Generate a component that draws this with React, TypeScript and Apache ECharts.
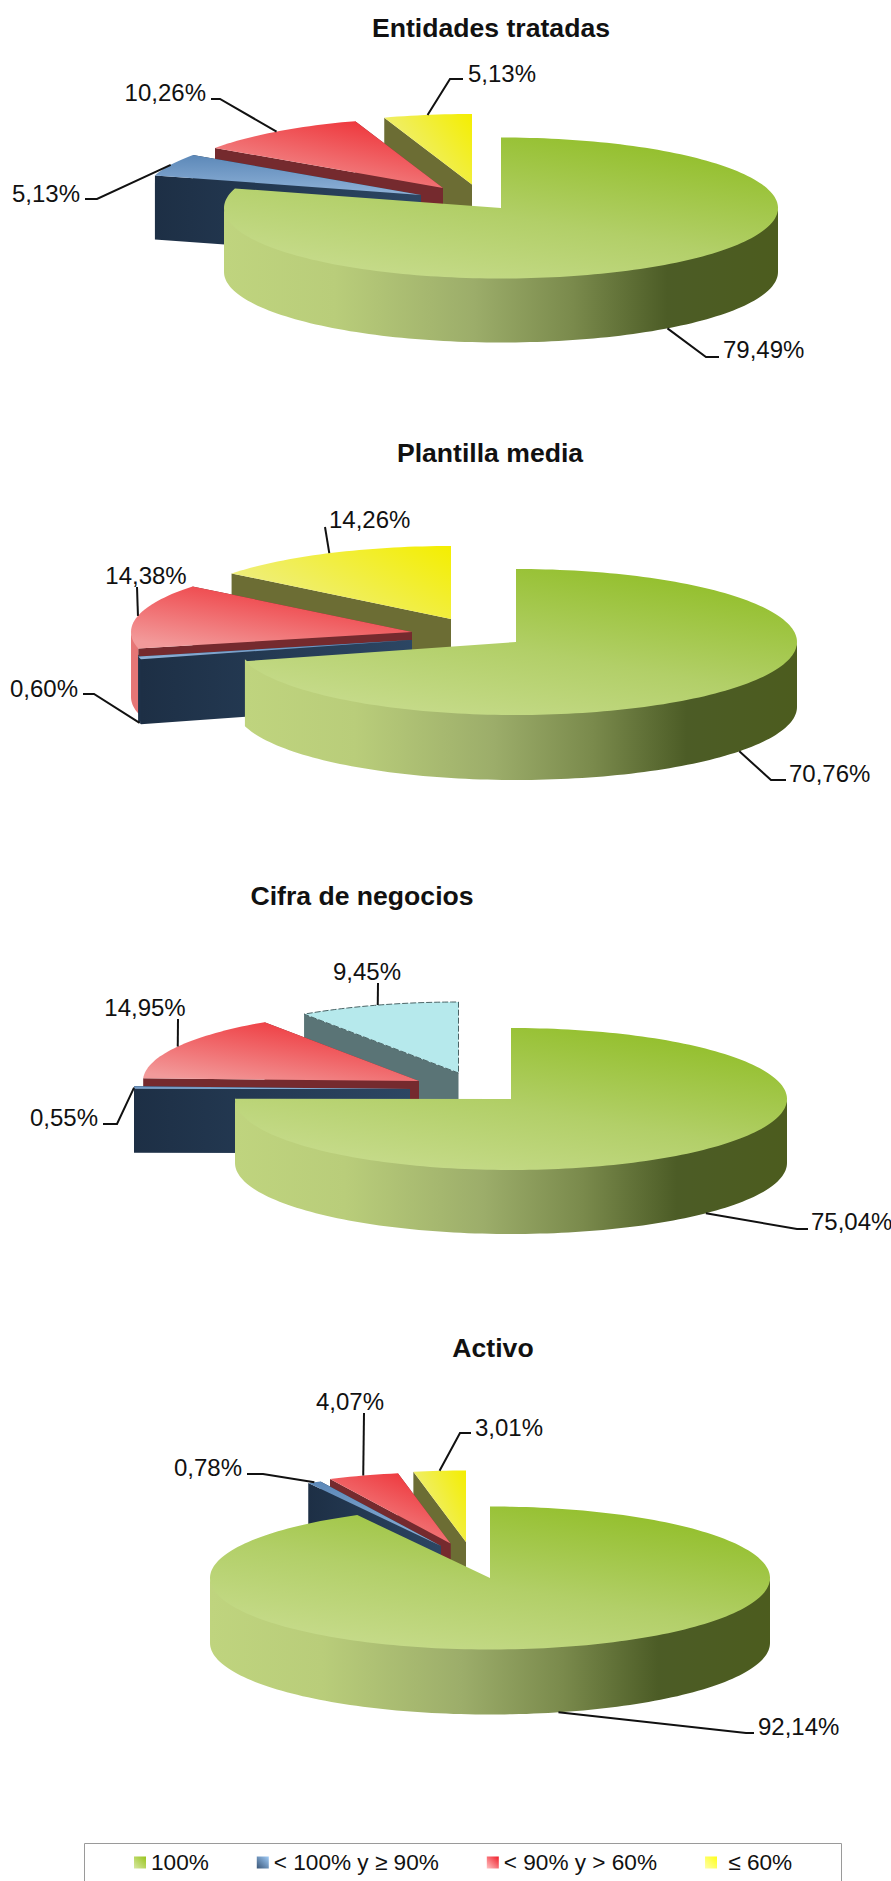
import React, { useEffect, useRef } from "react";
import * as echarts from "echarts";

const categories = ["100%", "< 100% y ≥ 90%", "< 90% y > 60%", " ≤ 60%"];
const chartTitles = ["Entidades tratadas", "Plantilla media", "Cifra de negocios", "Activo"];
const entidades = [79.49, 5.13, 10.26, 5.13];
const plantilla = [70.76, 0.6, 14.38, 14.26];
const cifra = [75.04, 0.55, 14.95, 9.45];
const activo = [92.14, 0.78, 4.07, 3.01];

const FONT = "'Liberation Sans', Arial, sans-serif";
const grad = (x: number, y: number, x2: number, y2: number, stops: [number, string][]) =>
  new echarts.graphic.LinearGradient(x, y, x2, y2, stops.map(([offset, color]) => ({ offset, color })));

const greenTop = () => grad(0.2, 1, 0.85, 0, [[0, "#c8dc8e"], [0.45, "#b2cf68"], [1, "#8fbd24"]]);
const greenSide = () => grad(0, 0, 1, 0, [[0, "#bfd47e"], [0.2, "#b9cd7a"], [0.45, "#9cad6a"], [0.63, "#7a8a4c"], [0.8, "#4c5c26"], [1, "#4c5c1e"]]);
const blueTop = () => grad(0, 0, 0, 1, [[0, "#5c88b8"], [1, "#8fb2d8"]]);
const redTop = () => grad(0.9, 0, 0.2, 1, [[0, "#ee2a30"], [1, "#f29a9a"]]);
const yellowTop = () => grad(1, 0, 0, 0.6, [[0, "#f4ee00"], [1, "#eeee88"]]);

const styles = [
  { top: greenTop, side: greenSide, wall: "#5c6c2c" },
  { top: blueTop, side: () => "#1e3148", wall: () => grad(0, 0, 1, 0, [[0, "#1d2f45"], [1, "#2c4663"]]) },
  { top: redTop, side: () => "#e67676", wall: () => "#752a2e" },
  { top: yellowTop, side: () => "#6e6f35", wall: () => "#6c6d34" },
];
const cyanStyle = { top: () => "#b6e9ec", side: () => "#5a7476", wall: () => "#5a7476", dashed: true };

type Label = { via: [number, number][]; x: number; y: number; align: string; base?: boolean };
type Pie = {
  values: number[]; titleX: number; titleY: number; rx: number; ry: number; depth: number;
  centers: [number, number][]; labels: Label[]; lastStyle?: any;
};

const pies: Pie[] = [
  {
    values: entidades, titleX: 491, titleY: 28, rx: 277, ry: 70.5, depth: 64,
    centers: [[501, 208], [421, 195], [443, 188], [472, 184.5]],
    labels: [
      { via: [[706, 357], [719, 357]], x: 723, y: 349, align: "left" },
      { via: [[97, 199], [85, 199]], x: 80, y: 193, align: "right" },
      { via: [[220, 99], [211, 99]], x: 206, y: 92, align: "right" },
      { via: [[450, 79], [463, 79]], x: 468, y: 73, align: "left" },
    ],
  },
  {
    values: plantilla, titleX: 490, titleY: 453, rx: 281, ry: 73, depth: 65,
    centers: [[516, 642], [412, 640], [412, 632], [451, 619]],
    labels: [
      { via: [[771, 780], [786, 780]], x: 789, y: 773, align: "left" },
      { via: [[94, 694], [83, 694]], x: 78, y: 688, align: "right", base: true },
      { via: [[137, 587]], x: 146, y: 575, align: "center" },
      { via: [[325, 527]], x: 329, y: 519, align: "left" },
    ],
  },
  {
    values: cifra, titleX: 362, titleY: 896, rx: 276, ry: 71, depth: 64,
    centers: [[511, 1099], [410, 1089], [419, 1081], [458.5, 1073]],
    labels: [
      { via: [[797, 1229], [808, 1229]], x: 811, y: 1221, align: "left" },
      { via: [[117, 1124], [103, 1124]], x: 98, y: 1117, align: "right" },
      { via: [[178, 1019]], x: 145, y: 1007, align: "center" },
      { via: [[378, 983]], x: 367, y: 971, align: "center" },
    ],
    lastStyle: cyanStyle,
  },
  {
    values: activo, titleX: 493, titleY: 1348, rx: 280, ry: 71.5, depth: 65,
    centers: [[490, 1578], [441, 1546], [450.5, 1543.5], [466, 1542]],
    labels: [
      { via: [[746, 1733], [754, 1733]], x: 758, y: 1726, align: "left" },
      { via: [[263, 1474], [247, 1474]], x: 242, y: 1467, align: "right" },
      { via: [[364, 1413]], x: 350, y: 1401, align: "center" },
      { via: [[460, 1433], [471, 1433]], x: 475, y: 1427, align: "left" },
    ],
  },
];

const legendColors = [
  () => grad(1, 0, 0, 1, [[0, "#98c41c"], [1, "#d8e8a4"]]),
  () => grad(1, 0, 0, 1, [[0, "#a0ccf8"], [1, "#3a5678"]]),
  () => grad(1, 0, 0, 1, [[0, "#f01c28"], [1, "#ffc4c4"]]),
  () => grad(1, 0, 0, 1, [[0, "#ffff18"], [1, "#ffffa8"]]),
];

function arc(c: [number, number], rx: number, ry: number, a0: number, a1: number, dy = 0) {
  const out: number[][] = [];
  const n = Math.max(2, Math.ceil(Math.abs(a1 - a0) / 1.5));
  for (let i = 0; i <= n; i++) {
    const t = ((a0 + ((a1 - a0) * i) / n) * Math.PI) / 180;
    out.push([c[0] + rx * Math.sin(t), c[1] - ry * Math.cos(t) + dy]);
  }
  return out;
}

function makeRender(pie: Pie) {
  return (params: any, api: any) => {
    const i = params.dataIndex;
    const total = pie.values.reduce((a, b) => a + b, 0);
    const before = pie.values.slice(0, i).reduce((a, b) => a + b, 0);
    const a0 = (before / total) * 360;
    const a1 = a0 + ((api.value(0) as number) / total) * 360;
    const c = pie.centers[i];
    const { rx, ry, depth } = pie;
    const st: any = i === 3 && pie.lastStyle ? pie.lastStyle : styles[i];
    const base = (4 - i) * 10;
    const children: any[] = [];
    const wallFill = typeof st.wall === "function" ? st.wall() : st.wall;

    const p0 = arc(c, rx, ry, a0, a0)[0];
    const p1 = arc(c, rx, ry, a1, a1)[0];
    const radial = (p: number[], z: number) => ({
      type: "polygon", z2: z, silent: true,
      shape: { points: [c, p, [p[0], p[1] + depth], [c[0], c[1] + depth]] },
      style: { fill: wallFill },
    });
    if (i !== 0) children.push(radial(p1, base));
    const f0 = Math.max(a0, 90);
    const f1 = Math.min(a1, 270);
    if (f1 > f0) {
      const topEdge = arc(c, rx, ry, f0, f1, -2);
      const botEdge = arc(c, rx, ry, f1, f0, depth);
      children.push({
        type: "polygon", z2: base + 1, silent: true,
        shape: { points: topEdge.concat(botEdge) },
        style: { fill: st.side() },
      });
    }
    if (i !== 0) children.push(radial(p0, base + 2));
    const topPts = [c as number[]].concat(arc(c, rx, ry, a0, a1));
    children.push({
      type: "polygon", z2: base + 3, silent: true,
      shape: { points: topPts },
      style: st.dashed
        ? { fill: st.top(), stroke: "#4a6466", lineWidth: 1, lineDash: [6, 2] }
        : { fill: st.top() },
    });

    const lab = pie.labels[i];
    const mid = (a0 + a1) / 2;
    const start = arc(c, rx, ry, mid, mid)[0];
    const bottomFront = lab.base || (mid > 90 && mid < 270 && i === 0);
    const anchor = bottomFront ? [start[0], start[1] + depth] : start;
    children.push({
      type: "polyline", z2: 60, silent: true,
      shape: { points: [anchor, ...lab.via] },
      style: { stroke: "#111111", lineWidth: 2, fill: "none" },
    });
    children.push({
      type: "text", z2: 61, silent: true,
      style: {
        text: (api.value(0) as number).toFixed(2).replace(".", ",") + "%",
        x: lab.x, y: lab.y, align: lab.align, verticalAlign: "middle",
        fontSize: 24, fontFamily: FONT, fill: "#111111",
      },
    });
    return { type: "group", children };
  };
}

export default function App() {
  const ref = useRef<HTMLDivElement>(null);
  useEffect(() => {
    document.body.style.margin = "0";
    const chart = echarts.init(ref.current as HTMLDivElement, null, { renderer: "svg" });
    const option: any = {
      animation: false,
      backgroundColor: "#ffffff",
      title: pies.map((p, i) => ({
        text: chartTitles[i],
        left: p.titleX,
        top: p.titleY - 15,
        textAlign: "center",
        padding: 0,
        textStyle: { fontFamily: FONT, fontSize: 26.6, fontWeight: "bold", color: "#111111", lineHeight: 30 },
      })),
      legend: {
        left: 134,
        top: 1851,
        padding: 0,
        itemWidth: 12,
        itemHeight: 12,
        itemGap: 48,
        icon: "rect",
        selectedMode: false,
        textStyle: { fontFamily: FONT, fontSize: 22.6, color: "#111111" },
        data: categories.map((name, i) => ({ name, icon: "rect", itemStyle: { color: legendColors[i]() } })),
      },
      graphic: [
        {
          type: "rect", silent: true,
          shape: { x: 84.5, y: 1843.5, width: 757, height: 60 },
          style: { fill: "none", stroke: "#9a9a9a", lineWidth: 1 },
        },
      ],
      series: [
        ...categories.map((name) => ({
          type: "custom", name, coordinateSystem: "none", data: [], renderItem: () => ({ type: "group", children: [] }),
        })),
        ...pies.map((pie, i) => ({
          type: "custom",
          name: chartTitles[i],
          coordinateSystem: "none",
          silent: true,
          data: pie.values.map((value, k) => ({
            name: k === 3 && pie.lastStyle ? "otros" : categories[k],
            value,
          })),
          renderItem: makeRender(pie),
        })),
      ],
    };
    chart.setOption(option);
    return () => chart.dispose();
  }, []);
  return <div ref={ref} style={{ width: 891, height: 1881 }} />;
}
